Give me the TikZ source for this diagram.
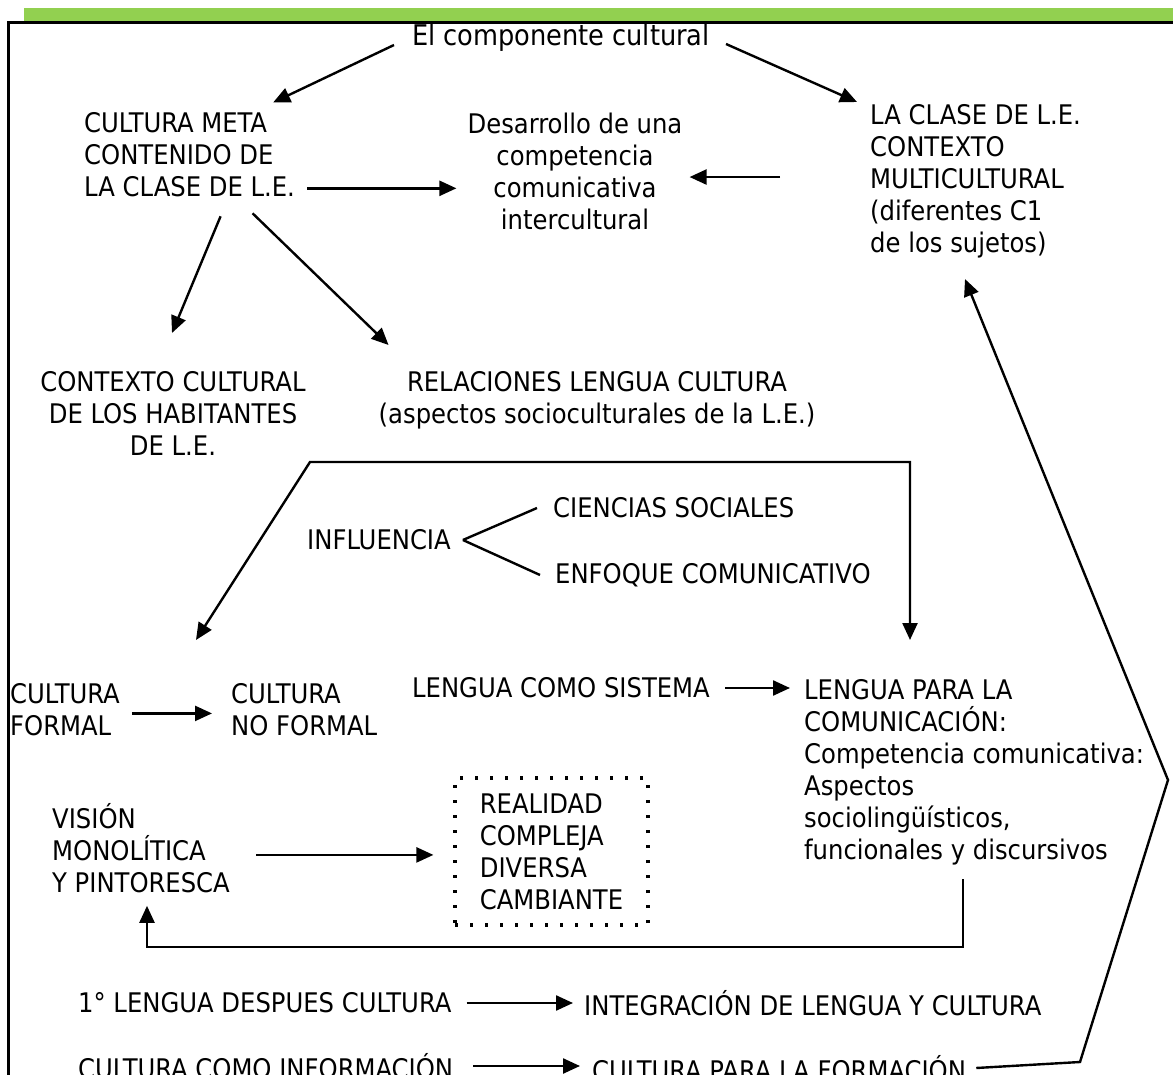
\documentclass[tikz,border=0pt]{standalone}
\usepackage{fontspec}
\setmainfont{DejaVu Sans Condensed}
\usetikzlibrary{arrows.meta,calc}
\definecolor{bar}{HTML}{92D050}
\begin{document}
\begin{tikzpicture}[x=1pt,y=-1pt,
  txt/.style={inner sep=0pt, font=\fontsize{27}{32}\selectfont, align=left},
  ctxt/.style={txt, align=center},
  arr/.style={line width=2.4pt, -{Triangle[length=17pt,width=15pt]}},
  arrb/.style={line width=2.4pt, {Triangle[length=17pt,width=15pt]}-{Triangle[length=17pt,width=15pt]}},
  ln/.style={line width=2.4pt}]
\useasboundingbox (0,0) rectangle (1173,1075);
\fill[white] (0,0) rectangle (1173,1075);
\fill[bar] (24,8) rectangle (1173,21);
\draw[line width=3pt] (8,1085) -- (8,23) -- (1185,23);

% nodes
\node[txt, font=\fontsize{28.5}{34}\selectfont] (top) at (561,38) {El componente cultural};
\node[txt, anchor=north west] (meta) at (84,112.5) {CULTURA META\\CONTENIDO DE\\LA CLASE DE L.E.};
\node[ctxt, anchor=north] (desa) at (575,113) {Desarrollo de una\\competencia\\comunicativa\\intercultural};
\node[txt, anchor=north west] (clase) at (870,104) {LA CLASE DE L.E.\\CONTEXTO\\MULTICULTURAL\\(diferentes C1\\de los sujetos)};
\node[ctxt, anchor=north] (habit) at (173,371) {CONTEXTO CULTURAL\\DE LOS HABITANTES\\DE L.E.};
\node[ctxt, anchor=north] (rel) at (597,371) {RELACIONES LENGUA CULTURA\\(aspectos socioculturales de la L.E.)};
\node[txt, anchor=west] (infl) at (307,540) {INFLUENCIA};
\node[txt, anchor=west] (cien) at (553,508) {CIENCIAS SOCIALES};
\node[txt, anchor=west] (enf) at (555,575) {ENFOQUE COMUNICATIVO};
\node[txt, anchor=north west] (cform) at (10,683) {CULTURA\\FORMAL};
\node[txt, anchor=north west] (cnform) at (231,683) {CULTURA\\NO FORMAL};
\node[txt, anchor=west] (lsis) at (412,688) {LENGUA COMO SISTEMA};
\node[txt, anchor=north west] (lcom) at (804,679) {LENGUA PARA LA\\COMUNICACIÓN:\\Competencia comunicativa:\\Aspectos\\sociolingüísticos,\\funcionales y discursivos};
\node[txt, anchor=north west] (vis) at (52,803) {VISIÓN\\MONOLÍTICA\\Y PINTORESCA};
\node[txt, draw, line width=3.2pt, dash pattern=on 3pt off 12pt, minimum width=193pt, minimum height=147pt] (real) at (551.5,851.5) {REALIDAD\\COMPLEJA\\DIVERSA\\CAMBIANTE};
\node[txt, anchor=west] (lint) at (78,1003) {1° LENGUA DESPUES CULTURA};
\node[txt, anchor=west] (integ) at (584,1003) {INTEGRACIÓN DE LENGUA Y CULTURA};
\node[txt, anchor=west] (cinf) at (78,1066) {CULTURA COMO INFORMACIÓN};
\node[txt, anchor=west] (cfor) at (592,1068) {CULTURA PARA LA FORMACIÓN};

% helper coordinates
\coordinate (b1) at (310,462);
\coordinate (b2) at (910,462);
\coordinate (k1) at (1080,1062);
\coordinate (k2) at (1168,780);

% connectors
\draw[arr] ([shift={(-18,7)}]top.west) -- ([shift={(-22,-10)}]meta.north east);
\draw[arr] ([shift={(16,6)}]top.east) -- ([shift={(-13,-2)}]clase.north west);
\path ([shift={(12,-9)}]meta.south east) coordinate (m3);
\draw[arr, shorten >=11pt] (m3) -- (m3 -| desa.west);
\path ([shift={(-90,-4)}]clase.west) coordinate (c4);
\draw[arr, shorten >=7pt] (c4) -- (c4 -| desa.east);
\draw[arr] ([shift={(31,19)}]meta.south) -- ([shift={(-1,-38)}]habit.north);
\draw[arr] ([shift={(63,16)}]meta.south) -- ([shift={(10,-26)}]rel.north west);
\draw[arrb] ([shift={(-35,-43)}]cnform.north west) -- (b1) -- (b2) -- ([yshift=39pt]b2 |- lcom.north);
\draw[ln] ([xshift=12pt]infl.east) -- ([xshift=-16pt]cien.west);
\draw[ln] ([xshift=12pt]infl.east) -- ([xshift=-15pt]enf.west);
\path ([shift={(12,4)}]cform.east) coordinate (f1);
\draw[arr, shorten >=19pt] (f1) -- (f1 -| cnform.west);
\path ([shift={(26,7)}]vis.east) coordinate (v1);
\draw[arr, shorten >=20pt] (v1) -- (v1 -| real.west);
\path ([xshift=15pt]lsis.east) coordinate (s1);
\draw[arr, shorten >=14pt] (s1) -- (s1 -| lcom.west);
\path ([shift={(159,14)}]lcom.south west) coordinate (r1);
\draw[arr] (r1) -- ++(0,68) -| ([shift={(95,13)}]vis.south west);
\path ([xshift=15pt]lint.east) coordinate (l1);
\draw[arr, shorten >=11pt] (l1) -- (l1 -| integ.west);
\path ([xshift=20pt]cinf.east) coordinate (i1);
\draw[arr, shorten >=12pt] (i1) -- (i1 -| cfor.west);
\draw[arr] ([xshift=10pt]cfor.east) -- (k1) -- (k2) -- ([shift={(95,21)}]clase.south west);
\end{tikzpicture}
\end{document}
